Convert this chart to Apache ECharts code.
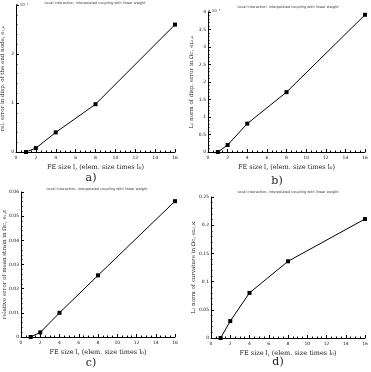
<!DOCTYPE html>
<html>
<head>
<meta charset="utf-8">
<script src="https://cdn.jsdelivr.net/npm/echarts@6/dist/echarts.min.js"></script>
<style>
  html, body { margin: 0; padding: 0; background: #fff; }
  #chart { width: 371px; height: 372px; }
</style>
</head>
<body>
<div id="chart"></div>
<script>
// FE size l (elem. size times l0)
var feSize = [1, 2, 4, 8, 16];
// a) rel. error in disp. of the end node (x 1e-3)
var endNodeErr = [0, 0.08, 0.40, 0.975, 2.6];
// b) L2 norm of disp. error (x 1e-4)
var l2DispErr = [0, 0.2, 0.81, 1.71, 3.92];
// c) relative error of mean strain
var meanStrainErr = [0, 0.0019, 0.010, 0.0255, 0.0562];
// d) L2 norm of curvature
var l2CurvErr = [0, 0.030, 0.080, 0.136, 0.211];

var titleText = 'Local interaction, interpolated coupling with linear weight';
var xName = 'FE size l, (elem. size times l\u2080)';

function pairs(ys) {
    var out = [];
    for (var i = 0; i < feSize.length; i++) {
        out.push([feSize[i], ys[i]]);
    }
    return out;
}

var serif = '"DejaVu Serif", "Liberation Serif", serif';
var sans = '"DejaVu Sans", sans-serif';

// grid boxes for the four panels
var grids = [
    { left: 16, top: 5, width: 159, height: 147 },
    { left: 208, top: 12, width: 157, height: 140 },
    { left: 21, top: 192, width: 154, height: 145 },
    { left: 211, top: 197, width: 154, height: 141 }
];
// title centres
var titlePos = [[95, 3], [288, 7], [97, 189], [288, 192]];

var yCfg = [
    { max: 3, interval: 1, name: 'rel. error in disp. of the end node, e\u1D63,\u1D64', gap: 10 },
    { max: 4, interval: 0.5, name: 'L\u2082 norm of disp. error in \u03A9c, e\u029F\u2082,\u1D64', gap: 13 },
    { max: 0.06, interval: 0.01, name: 'relative error of mean strain in \u03A9c, e\u1D63,\u03B5', gap: 13 },
    { max: 0.25, interval: 0.05, name: 'L\u2082 norm of curvature in \u03A9c, e\u029F\u2082,\u03BA', gap: 14 }
];

var seriesData = [endNodeErr, l2DispErr, meanStrainErr, l2CurvErr];

var option = {
    animation: false,
    backgroundColor: '#fff',
    grid: [],
    xAxis: [],
    yAxis: [],
    series: [],
    graphic: []
};

for (var k = 0; k < 4; k++) {
    var g = grids[k];
    option.grid.push({ left: g.left, top: g.top, width: g.width, height: g.height, outerBoundsMode: 'none' });
    option.xAxis.push({
        gridIndex: k,
        type: 'value',
        min: 0,
        max: 16,
        interval: 2,
        name: xName,
        nameLocation: 'middle',
        nameGap: 12,
        nameMoveOverlap: false,
        nameTextStyle: { fontFamily: serif, fontSize: 6.5, color: '#222' },
        axisLine: { lineStyle: { color: '#000', width: 1 } },
        axisTick: { inside: true, length: 3, lineStyle: { color: '#000' } },
        minorTick: { show: true, splitNumber: 4, length: 1.5, lineStyle: { color: '#000' } },
        axisLabel: { fontSize: 4.5, color: '#222', margin: 3, fontFamily: sans },
        splitLine: { show: false }
    });
    var yc = yCfg[k];
    option.yAxis.push({
        gridIndex: k,
        type: 'value',
        min: 0,
        max: yc.max,
        interval: yc.interval,
        name: yc.name,
        nameLocation: 'middle',
        nameGap: yc.gap,
        nameMoveOverlap: false,
        nameTextStyle: { fontFamily: serif, fontSize: 5.5, color: '#222' },
        axisLine: { show: true, lineStyle: { color: '#000', width: 1 } },
        axisTick: { show: true, inside: true, length: 3, lineStyle: { color: '#000' } },
        minorTick: { show: true, splitNumber: 5, length: 1.5, lineStyle: { color: '#000' } },
        axisLabel: {
            show: true,
            showMaxLabel: k !== 0,
            hideOverlap: false,
            fontSize: 4.5, color: '#111', margin: 2, fontFamily: sans
        },
        splitLine: { show: false }
    });
    option.series.push({
        type: 'line',
        xAxisIndex: k,
        yAxisIndex: k,
        data: pairs(seriesData[k]),
        symbol: 'rect',
        symbolSize: 4,
        itemStyle: { color: '#000' },
        lineStyle: { color: '#000', width: 1 }
    });
    // small title above each panel
    option.graphic.push({
        type: 'text',
        x: titlePos[k][0],
        y: titlePos[k][1],
        style: { text: titleText, fontSize: 3.5, fill: '#444', fontFamily: sans, align: 'center', verticalAlign: 'middle' }
    });
}

// exponent labels
option.graphic.push({
    type: 'text', x: 16, y: 5,
    style: { text: 'x 10\u207B\u00B3', fontSize: 4, fill: '#333', fontFamily: sans, verticalAlign: 'middle' }
});
option.graphic.push({
    type: 'text', x: 208, y: 11,
    style: { text: 'x 10\u207B\u2074', fontSize: 4, fill: '#333', fontFamily: sans, verticalAlign: 'middle' }
});

// panel labels
var panelLabels = [['a)', 91, 178], ['b)', 277, 181], ['c)', 91, 363], ['d)', 278, 362]];
for (var p = 0; p < panelLabels.length; p++) {
    option.graphic.push({
        type: 'text', x: panelLabels[p][1], y: panelLabels[p][2],
        style: { text: panelLabels[p][0], fontSize: 11, fill: '#222', fontFamily: serif, align: 'center', verticalAlign: 'middle' }
    });
}

var myChart = echarts.init(document.getElementById('chart'));
myChart.setOption(option);
</script>
</body>
</html>
